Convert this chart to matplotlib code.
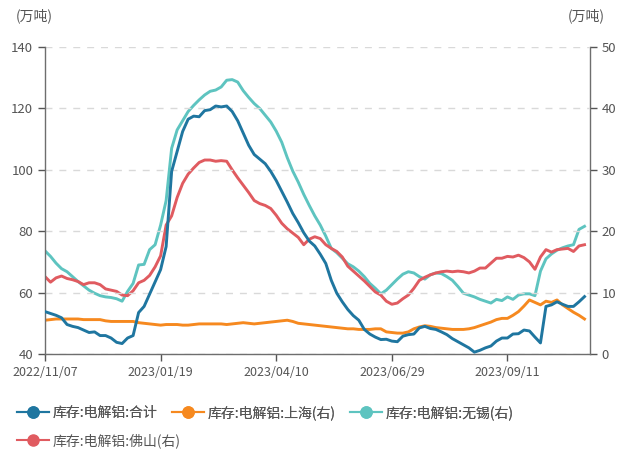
import numpy as np
import matplotlib
matplotlib.use('Agg')
import matplotlib.pyplot as plt
from matplotlib.lines import Line2D

plt.rcParams['font.family'] = ['Noto Sans CJK SC', 'DejaVu Sans']

# 数据（按图读取，周一/周四）
tick_labels = ['2022/11/07', '2023/01/19', '2023/04/10', '2023/06/29', '2023/09/11']
tick_step = 21

total = [53.8, 53.2, 52.6, 51.8, 49.6, 49.0, 48.6, 47.8, 47.0, 47.2,
         46.0, 46.0, 45.2, 43.8, 43.4, 45.2, 46.0, 53.5, 55.5, 59.5,
         63.5, 67.5, 75.0, 99.5, 106.0, 112.5, 116.5, 117.5, 117.3, 119.3,
         119.6, 120.8, 120.5, 120.8, 119.0, 116.0, 112.0, 108.0, 105.0, 103.5,
         102.0, 99.5, 96.5, 93.0, 89.5, 85.8, 82.8, 79.5, 76.8, 75.2,
         72.5, 69.5, 64.0, 59.8, 57.0, 54.5, 52.5, 51.0, 48.0, 46.5,
         45.5, 44.7, 44.8, 44.2, 44.0, 45.8, 46.3, 46.5, 48.5, 49.0,
         48.3, 48.0, 47.2, 46.3, 45.0, 44.0, 43.0, 42.0, 40.6, 41.2,
         42.0, 42.6, 44.2, 45.2, 45.2, 46.5, 46.6, 47.8, 47.5, 45.5,
         43.6, 55.5, 56.0, 57.0, 56.2, 55.5, 55.5, 57.0, 58.7]

shanghai = [5.5, 5.6, 5.7, 5.7, 5.7, 5.7, 5.7, 5.6, 5.6, 5.6,
            5.6, 5.4, 5.3, 5.3, 5.3, 5.3, 5.3, 5.1, 5.0, 4.9,
            4.8, 4.7, 4.8, 4.8, 4.8, 4.7, 4.7, 4.8, 4.9, 4.9,
            4.9, 4.9, 4.9, 4.8, 4.9, 5.0, 5.1, 5.0, 4.9, 5.0,
            5.1, 5.2, 5.3, 5.4, 5.5, 5.3, 5.0, 4.9, 4.8, 4.7,
            4.6, 4.5, 4.4, 4.3, 4.2, 4.1, 4.1, 4.0, 4.0, 4.0,
            4.1, 4.1, 3.6, 3.5, 3.4, 3.4, 3.6, 4.1, 4.4, 4.6,
            4.5, 4.3, 4.2, 4.1, 4.0, 4.0, 4.0, 4.1, 4.3, 4.6,
            4.9, 5.2, 5.6, 5.8, 5.8, 6.3, 6.9, 7.8, 8.8, 8.4,
            8.0, 8.6, 8.4, 8.8, 8.0, 7.4, 6.8, 6.3, 5.7]

wuxi = [16.8, 15.9, 14.8, 13.9, 13.4, 12.6, 11.8, 11.1, 10.4, 9.9,
        9.5, 9.3, 9.2, 9.0, 8.6, 10.2, 11.5, 14.5, 14.6, 17.0,
        17.8, 21.0, 25.0, 33.5, 36.5, 38.0, 39.5, 40.5, 41.4, 42.2,
        42.8, 43.0, 43.5, 44.6, 44.7, 44.3, 42.9, 41.8, 40.8, 40.0,
        38.9, 37.8, 36.3, 34.5, 32.0, 29.8, 28.0, 26.0, 24.2, 22.5,
        21.0, 19.2, 17.2, 16.5, 15.6, 14.7, 14.2, 13.5, 12.6, 11.5,
        10.7, 9.8, 10.4, 11.3, 12.2, 13.0, 13.4, 13.2, 12.6, 12.2,
        12.9, 13.2, 13.1, 12.6, 12.0, 11.0, 9.9, 9.6, 9.3, 8.9,
        8.6, 8.3, 8.9, 8.7, 9.3, 8.9, 9.6, 9.8, 9.8, 9.5,
        13.5, 15.5, 16.3, 16.9, 17.3, 17.6, 17.8, 20.3, 20.8]

foshan = [12.6, 11.7, 12.4, 12.7, 12.3, 12.1, 11.8, 11.3, 11.6, 11.6,
          11.3, 10.6, 10.4, 10.2, 9.6, 9.5, 10.3, 11.6, 12.0, 12.8,
          14.2, 16.0, 21.0, 22.5, 25.5, 27.8, 29.3, 30.3, 31.2, 31.6,
          31.6, 31.4, 31.5, 31.4, 30.0, 28.7, 27.5, 26.3, 25.0, 24.5,
          24.2, 23.7, 22.6, 21.3, 20.4, 19.7, 19.0, 17.8, 18.7, 19.1,
          18.8, 17.8, 17.2, 16.7, 15.8, 14.3, 13.5, 12.7, 11.9, 11.0,
          10.1, 9.6, 8.6, 8.1, 8.3, 9.0, 9.6, 10.7, 12.0, 12.5,
          12.9, 13.2, 13.4, 13.5, 13.4, 13.5, 13.4, 13.2, 13.5, 14.0,
          14.0, 14.8, 15.6, 15.6, 15.9, 15.8, 16.1, 15.7, 15.0, 13.8,
          15.8, 17.0, 16.6, 17.0, 17.1, 17.2, 16.7, 17.6, 17.8]

names = ['库存:电解铝:合计', '库存:电解铝:上海(右)', '库存:电解铝:无锡(右)', '库存:电解铝:佛山(右)']
colors = ['#1f76a0', '#f6891f', '#5ec4c0', '#e05b60']

x = np.arange(len(total))

fig = plt.figure(figsize=(6.21, 4.54), dpi=100)
ax = fig.add_axes([0.0725, 0.2203, 0.8776, 0.676])
ax2 = ax.twinx()

lw = 2.1
ax.plot(x, total, color=colors[0], lw=lw, zorder=3)
ax2.plot(x, shanghai, color=colors[1], lw=lw)
ax2.plot(x, wuxi, color=colors[2], lw=lw)
ax2.plot(x, foshan, color=colors[3], lw=lw)

ax.set_ylim(40, 140)
ax.set_yticks(range(40, 141, 20))
ax2.set_ylim(0, 50)
ax2.set_yticks(range(0, 51, 10))
ax.set_xlim(0, 99)
ax.set_xticks([i * tick_step for i in range(len(tick_labels))])
ax.set_xticklabels(tick_labels)

ax.grid(axis='y', linestyle=(0, (5, 5)), color='#d9d9d9', lw=1)
ax.set_axisbelow(True)
ax.set_zorder(ax2.get_zorder() + 1)
ax.patch.set_visible(False)

for a in (ax, ax2):
    a.spines['top'].set_visible(False)
    for s in ['left', 'right', 'bottom']:
        a.spines[s].set_color('#6e6e6e')
        a.spines[s].set_linewidth(1.0)
    a.tick_params(colors='#555555', labelsize=9.5, length=5, width=1)
ax.spines['right'].set_visible(False)
ax2.spines['left'].set_visible(False)
ax2.spines['bottom'].set_visible(False)
ax.tick_params(axis='x', labelsize=9, pad=4)

fig.text(0.025, 0.965, '(万吨)', fontsize=10, color='#555555', va='center')
fig.text(0.915, 0.965, '(万吨)', fontsize=10, color='#555555', va='center')

# 图例：第一行三项，第二行一项
handles = [Line2D([0], [0], color=c, lw=1.5, marker='o', markersize=8,
                  markerfacecolor=c, markeredgecolor=c) for c in colors]
leg_kw = dict(loc='center left', frameon=False, fontsize=10, handlelength=2.3,
              handletextpad=0.3, columnspacing=1.0, borderaxespad=0,
              borderpad=0, labelcolor='#555555')
leg1 = fig.legend(handles[:3], names[:3], ncol=3,
                  bbox_to_anchor=(0.027, 0.091), **leg_kw)
fig.legend(handles[3:], names[3:], ncol=1,
           bbox_to_anchor=(0.027, 0.029), **leg_kw)
fig.add_artist(leg1)

fig.savefig('out.png', dpi=100)
